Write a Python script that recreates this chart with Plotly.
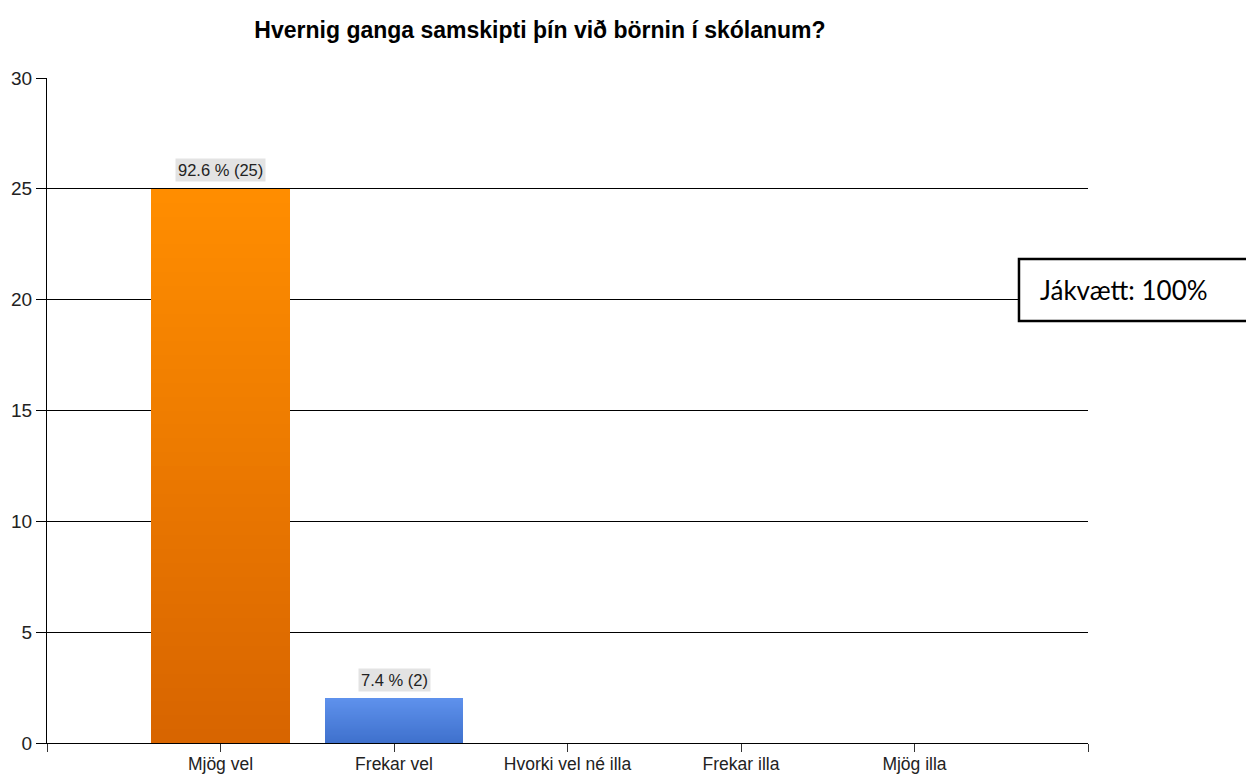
import plotly.graph_objects as go

# Survey answers and counts
categories = ["Mjög vel", "Frekar vel", "Hvorki vel né illa", "Frekar illa", "Mjög illa"]
counts = [25, 2, 0, 0, 0]
title_text = "Hvernig ganga samskipti þín við börnin í skólanum?"
summary_text = "Jákvætt: 100%"

# Gradient end colours per bar (top, bottom)
top_colors = [(255, 142, 0), (94, 145, 236), (255, 142, 0), (255, 142, 0), (255, 142, 0)]
bottom_colors = [(216, 100, 0), (62, 112, 204), (216, 100, 0), (216, 100, 0), (216, 100, 0)]

total = sum(counts)
positions = list(range(len(categories)))
N_STEPS = 40


def mix(c_bottom, c_top, t):
    return "rgb({},{},{})".format(*[round(b + (a - b) * t) for a, b in zip(c_top, c_bottom)])


fig = go.Figure()

# Each bar is stacked from thin slices to give a vertical colour gradient
for k in range(N_STEPS):
    t = (k + 0.5) / N_STEPS
    fig.add_trace(go.Bar(
        x=positions,
        y=[v / N_STEPS for v in counts],
        width=0.8,
        marker=dict(color=[mix(b, a, t) for a, b in zip(top_colors, bottom_colors)], line=dict(width=0)),
        showlegend=False,
        hoverinfo="skip",
    ))

# Value labels above the non-empty bars
for i, v in enumerate(counts):
    if v > 0:
        fig.add_annotation(
            x=i, y=v, xref="x", yref="y",
            text=f"{v / total * 100:.1f} % ({v})",
            showarrow=False, yshift=19,
            bgcolor="#e3e3e3", borderpad=2,
            font=dict(family="Liberation Sans, Arial", size=16.5, color="#222"),
        )

# Summary box on the right
fig.add_shape(type="rect", xref="paper", yref="paper",
              x0=0.9337, x1=1.16, y0=0.6346, y1=0.7278,
              line=dict(color="black", width=2.5), fillcolor="white", layer="above")
fig.add_annotation(xref="paper", yref="paper", x=0.952, y=0.681, xanchor="left", yanchor="middle",
                   text=summary_text, showarrow=False,
                   font=dict(family="Lato, Open Sans", size=26, color="black"))

# Tick positions include the two axis ends, which carry no label
tick_positions = [-1] + positions + [len(categories)]
tick_labels = [""] + categories + [""]

fig.update_layout(
    barmode="stack",
    bargap=0,
    width=1246, height=776,
    margin=dict(l=47, r=158, t=78, b=33),
    paper_bgcolor="white", plot_bgcolor="white",
    title=dict(text=f"<b>{title_text}</b>", x=540 / 1246, xanchor="center", y=0.962, yanchor="middle",
               font=dict(family="Liberation Sans, Arial", size=23, color="black")),
    xaxis=dict(
        range=[-1, len(categories)],
        tickvals=tick_positions, ticktext=tick_labels,
        showgrid=False, zeroline=False, automargin=False,
        showline=True, linecolor="black", linewidth=1,
        ticks="outside", ticklen=8, tickcolor="#333", tickwidth=1,
        ticklabelstandoff=-3,
        tickfont=dict(family="Liberation Sans, Arial", size=17.5, color="#222"),
    ),
    yaxis=dict(
        range=[0, 30], dtick=5,
        showgrid=True, gridcolor="black", gridwidth=1,
        zeroline=False, automargin=False,
        showline=True, linecolor="black", linewidth=1,
        ticks="outside", ticklen=10, tickcolor="black", tickwidth=1,
        tickfont=dict(family="Liberation Sans, Arial", size=19, color="#222"),
    ),
)

fig.write_html("out.html")
